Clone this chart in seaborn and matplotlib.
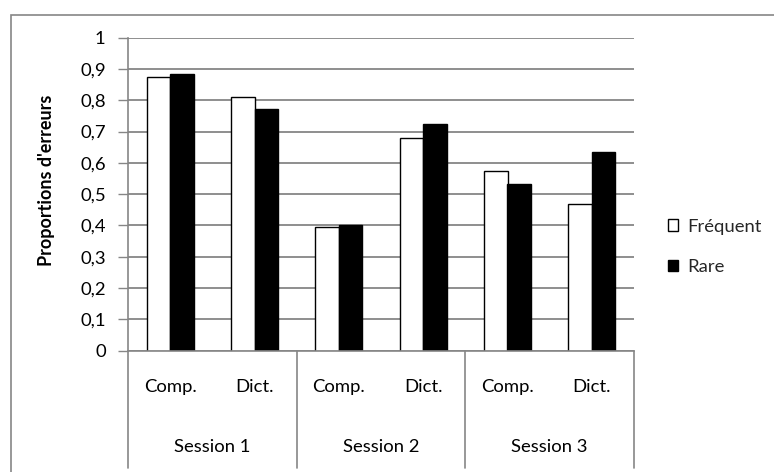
import matplotlib
matplotlib.use("Agg")
import matplotlib.pyplot as plt
import seaborn as sns
import pandas as pd
from matplotlib.patches import Rectangle, Patch
from matplotlib.lines import Line2D

sessions = ["Session 1", "Session 2", "Session 3"]
tasks = ["Comp.", "Dict."]
series = ["Fréquent", "Rare"]
frequent = [0.876, 0.810, 0.396, 0.681, 0.573, 0.469]
rare = [0.883, 0.771, 0.402, 0.724, 0.533, 0.636]
yticks = [0, 0.1, 0.2, 0.3, 0.4, 0.5, 0.6, 0.7, 0.8, 0.9, 1]
ylabel = "Proportions d'erreurs"

sns.set_theme(style="white")
plt.rcParams['font.family'] = ['Lato', 'DejaVu Sans']

rows = []
keys = []
for i, s in enumerate(sessions):
    for j, t in enumerate(tasks):
        k = f"{s}|{t}"
        keys.append(k)
        idx = i * 2 + j
        rows.append({"cat": k, "serie": series[0], "val": frequent[idx]})
        rows.append({"cat": k, "serie": series[1], "val": rare[idx]})
df = pd.DataFrame(rows)

FS = 13.3
W, H = 774, 472
fig = plt.figure(figsize=(W / 100, H / 100), dpi=100)
L, R, T, B = 128, 634, 37.8, 350.5
ax = fig.add_axes([L / W, 1 - B / H, (R - L) / W, (B - T) / H])

grey = "#868686"
sns.barplot(data=df, x="cat", y="val", hue="serie", order=keys,
            hue_order=series, palette=["white", "black"], width=0.56,
            edgecolor="black", linewidth=1.0, ax=ax, legend=False, saturation=1)

ax.set_xlim(-0.5, len(keys) - 0.5)
ax.set_ylim(0, 1)
ax.set_yticks(yticks)
ax.set_yticklabels([("%g" % v).replace(".", ",") for v in yticks], fontsize=FS, color="black")
ax.yaxis.grid(True, color=grey, linewidth=1.3)
ax.set_axisbelow(True)
ax.tick_params(axis="y", direction="out", length=7, width=1, color=grey, pad=9, left=True)
ax.set_xticks([])
ax.set_xlabel("")
ax.set_ylabel("")
for side in ["top", "right"]:
    ax.spines[side].set_visible(False)
ax.spines["left"].set_color(grey)
ax.spines["bottom"].set_color(grey)
ax.spines["left"].set_linewidth(1.2)
ax.spines["bottom"].set_linewidth(1.2)

# Two-level category axis
trans = ax.get_xaxis_transform()
for i, k in enumerate(keys):
    t = k.split("|")[1]
    ax.text(i, -(386.7 - B) / (B - T), t, transform=trans, ha="center", va="center",
            fontsize=FS, color="black")
for i, s in enumerate(sessions):
    ax.text(2 * i + 0.5, -(446.7 - B) / (B - T), s, transform=trans, ha="center",
            va="center", fontsize=FS, color="black")
bot = -(468 - B) / (B - T)
for x in [-0.5, 1.5, 3.5, 5.5]:
    ax.add_line(Line2D([x, x], [0, bot], transform=trans, color=grey, linewidth=1.2,
                       clip_on=False))

fig.text(47 / W, 1 - 180 / H, ylabel, rotation=90, ha="center", va="center",
         fontsize=13, fontweight="bold", color="black")

handles = [Patch(facecolor="white", edgecolor="black", linewidth=1.0),
           Patch(facecolor="black", edgecolor="black", linewidth=1.0)]
fig.legend(handles, series, loc="center left", bbox_to_anchor=(668 / W, 1 - 247 / H),
           frameon=False, fontsize=FS, handlelength=0.55, handleheight=0.55,
           handletextpad=0.5, labelspacing=1.35, borderpad=0, borderaxespad=0)

fig.add_artist(Rectangle((11 / W, -0.05), 1.2, 1 - 14.5 / H + 0.05, transform=fig.transFigure,
                         fill=False, edgecolor=grey, linewidth=1.2))

fig.savefig("out.png", dpi=100)
